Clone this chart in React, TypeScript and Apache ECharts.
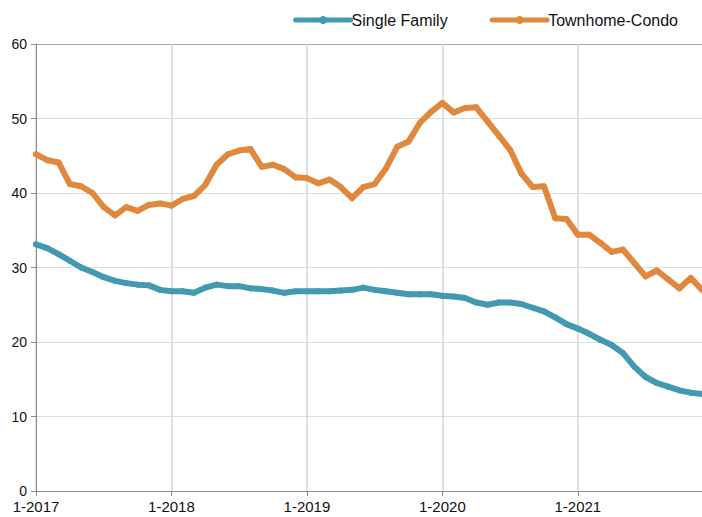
import React, { useEffect, useRef } from "react";
import * as echarts from "echarts";

const years = [2017, 2018, 2019, 2020, 2021];
const months = [1, 2, 3, 4, 5, 6, 7, 8, 9, 10, 11, 12];
const categories: string[] = [];
years.forEach((y) => months.forEach((m) => categories.push(`${m}-${y}`)));

const singleFamily = [
  33.1, 32.6, 31.8, 30.9, 30.0, 29.4, 28.7, 28.2, 27.9, 27.7, 27.6, 27.0,
  26.8, 26.8, 26.6, 27.3, 27.7, 27.5, 27.5, 27.2, 27.1, 26.9, 26.6, 26.8,
  26.8, 26.8, 26.8, 26.9, 27.0, 27.3, 27.0, 26.8, 26.6, 26.4, 26.4, 26.4,
  26.2, 26.1, 25.9, 25.3, 25.0, 25.3, 25.3, 25.1, 24.6, 24.1, 23.3, 22.4,
  21.8, 21.1, 20.3, 19.6, 18.5, 16.7, 15.3, 14.5, 14.0, 13.5, 13.2, 13.0,
];

const townhomeCondo = [
  45.2, 44.4, 44.1, 41.2, 40.9, 40.0, 38.1, 37.0, 38.1, 37.6, 38.4, 38.6,
  38.3, 39.2, 39.6, 41.1, 43.8, 45.2, 45.7, 45.9, 43.5, 43.8, 43.2, 42.1,
  42.0, 41.3, 41.8, 40.8, 39.3, 40.8, 41.2, 43.3, 46.2, 46.9, 49.4, 50.9,
  52.1, 50.8, 51.4, 51.5, 49.6, 47.7, 45.8, 42.6, 40.8, 40.9, 36.6, 36.5,
  34.4, 34.4, 33.3, 32.1, 32.4, 30.6, 28.8, 29.6, 28.4, 27.2, 28.6, 27.0,
];

const yTicks = [0, 10, 20, 30, 40, 50, 60];

const BLUE = "#4399B2";
const ORANGE = "#E0883E";
const FONT = "Liberation Sans, Arial, sans-serif";

export default function App() {
  const ref = useRef<HTMLDivElement>(null);
  useEffect(() => {
    if (!ref.current) return;
    const chart = echarts.init(ref.current, undefined, { renderer: "svg" });
    const gridColors = yTicks.map((t, i) => (i === yTicks.length - 1 ? "#a6a6a6" : "#dcdcdc"));
    chart.setOption({
      animation: false,
      textStyle: { fontFamily: FONT },
      legend: {
        top: 7,
        right: 19,
        itemWidth: 55,
        itemHeight: 10,
        itemGap: 42,
        lineStyle: { width: 5 },
        itemStyle: { borderWidth: 0 },
        textStyle: { fontSize: 16, color: "#111", fontFamily: FONT, padding: [0, 0, 0, -4] },
        data: ["Single Family", "Townhome-Condo"],
      },
      grid: { left: 36, right: 0, top: 44, bottom: 26, containLabel: false },
      xAxis: {
        type: "category",
        data: categories,
        boundaryGap: false,
        axisLine: { lineStyle: { color: "#8c8c8c", width: 1 } },
        axisTick: { show: true, interval: 11, length: 5, lineStyle: { color: "#8c8c8c" } },
        axisLabel: { interval: 11, color: "#111", fontSize: 15, margin: 8, fontFamily: FONT },
        splitLine: { show: true, interval: 11, lineStyle: { color: "#d6d6d6", width: 1.5 } },
      },
      yAxis: {
        type: "value",
        min: 0,
        max: 60,
        interval: 10,
        axisLine: { show: true, lineStyle: { color: "#8c8c8c", width: 1 } },
        axisTick: { show: true, length: 5, lineStyle: { color: "#8c8c8c" } },
        axisLabel: { color: "#111", fontSize: 14, margin: 9, fontFamily: FONT },
        splitLine: { show: true, lineStyle: { color: gridColors, width: 1 } },
      },
      series: [
        {
          name: "Single Family",
          type: "line",
          data: singleFamily,
          color: BLUE,
          symbol: "circle",
          symbolSize: 6,
          showSymbol: true,
          lineStyle: { width: 6, color: BLUE, join: "round", cap: "round" },
          itemStyle: { color: BLUE },
        },
        {
          name: "Townhome-Condo",
          type: "line",
          data: townhomeCondo,
          color: ORANGE,
          symbol: "circle",
          symbolSize: 6,
          showSymbol: true,
          lineStyle: { width: 6, color: ORANGE, join: "round", cap: "round" },
          itemStyle: { color: ORANGE },
        },
      ],
    });
    return () => chart.dispose();
  }, []);
  return <div ref={ref} style={{ width: 702, height: 517, position: "absolute", left: 0, top: 0 }} />;
}
